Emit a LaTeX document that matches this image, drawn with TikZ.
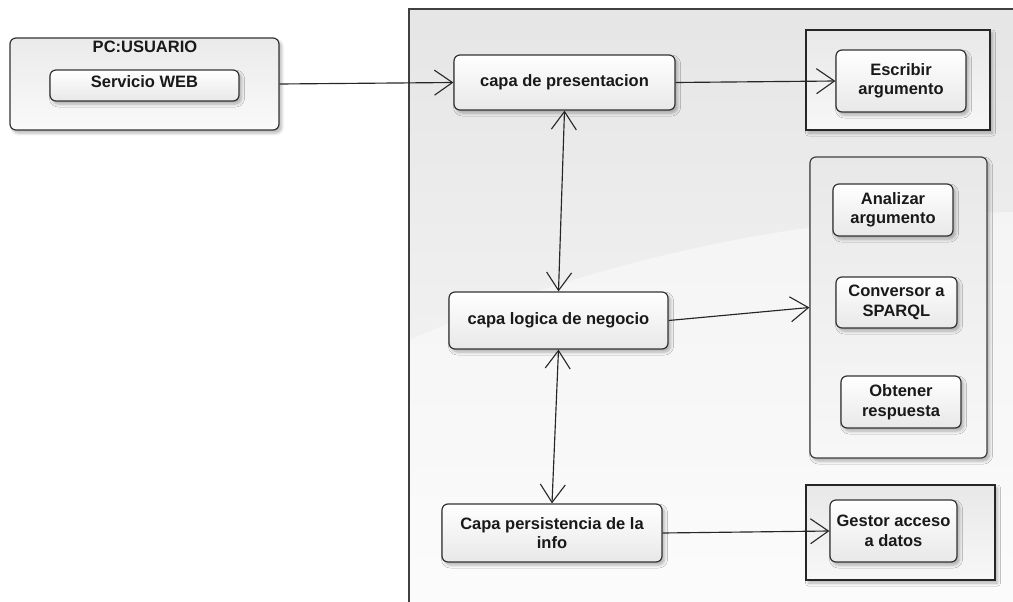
\documentclass[tikz,border=0pt]{standalone}
\usepackage{fontspec}
\setmainfont{Liberation Sans}
\usetikzlibrary{arrows.meta,shadows.blur}

\begin{document}
\begin{tikzpicture}[x=1pt,y=-1pt,
  lbl/.style={font=\bfseries\fontsize{16.5}{19.5}\selectfont, align=center, text=black!90},
  softshadow/.style={blur shadow={shadow xshift=2.5pt, shadow yshift=-3pt,
      shadow blur steps=6, shadow blur radius=3pt, shadow opacity=30}},
  card/.style={lbl, draw=black!80, line width=1.2pt, rounded corners=6pt,
      top color=white, bottom color=black!9, softshadow, inner sep=0pt},
  frame/.style={draw=black!85, line width=1.2pt, top color=black!9,
      bottom color=black!3, softshadow, inner sep=0pt},
  roundframe/.style={frame, rounded corners=6pt, draw=black!75},
  barb/.tip={Straight Barb[length=18pt, width=25pt, line width=1.1pt]},
  link/.style={draw=black!85, line width=1.15pt, -barb},
  dlink/.style={link, barb-barb}
]
\useasboundingbox (0,0) rectangle (1013,602);

% server area running off the right and bottom edges
\begin{scope}
  \clip (0,0) rectangle (1013,602);
  \path[top color=black!10, bottom color=black!2] (409,9) rectangle (1040,630);
  \fill[white, opacity=0.45] (409,340) .. controls (620,250) and (820,215) .. (1013,212)
      -- (1013,602) -- (409,602) -- cycle;
  \draw[black!75, line width=1.2pt] (1040,9) -- (409,9) -- (409,630);
\end{scope}

% client machine
\node[frame, rounded corners=6pt, top color=black!8, bottom color=black!2,
      draw=black!80, minimum width=269pt, minimum height=92pt] (pc) at (144.5,84) {};
\node[lbl] (pctitle) at (145,47) {PC:USUARIO};
\node[card, minimum width=189pt, minimum height=31pt, text depth=8pt] (web) at (144.5,85.5) {Servicio WEB};

% layers
\node[card, minimum width=221pt, minimum height=55pt] (pres) at (564.5,82.5) {capa de presentacion};
\node[card, minimum width=219pt, minimum height=57pt] (logic) at (558.5,320.5) {capa logica de negocio};
\node[card, minimum width=220pt, minimum height=58pt] (pers) at (552,533) {Capa persistencia de la\\info};

% components
\node[frame, minimum width=184pt, minimum height=100pt] (escf) at (898,80) {};
\node[card, minimum width=130pt, minimum height=62pt] (esc) at (901,81) {Escribir\\argumento};

\node[roundframe, minimum width=177pt, minimum height=301pt] (cont) at (898.5,307.5) {};
\node[card, minimum width=120pt, minimum height=52pt] (ana) at (893,210) {Analizar\\argumento};
\node[card, minimum width=121pt, minimum height=51pt] (conv) at (896.5,302.5) {Conversor a\\SPARQL};
\node[card, minimum width=120pt, minimum height=52pt] (obt) at (901,402) {Obtener\\respuesta};

\node[frame, minimum width=189pt, minimum height=95pt] (gesf) at (900.5,532.5) {};
\node[card, minimum width=127pt, minimum height=62pt] (ges) at (893.5,531) {Gestor acceso\\a datos};

% connectors
\draw[link] (pc.east) -- (pres.west);
\draw[link] (pres.east) -- (esc.west);
\draw[dlink] (pres.south) -- (logic.north);
\draw[link] (logic.east) -- (cont.west);
\draw[dlink] (logic.south) -- (pers.north);
\draw[link] (pers.east) -- (ges.west);
\end{tikzpicture}
\end{document}
